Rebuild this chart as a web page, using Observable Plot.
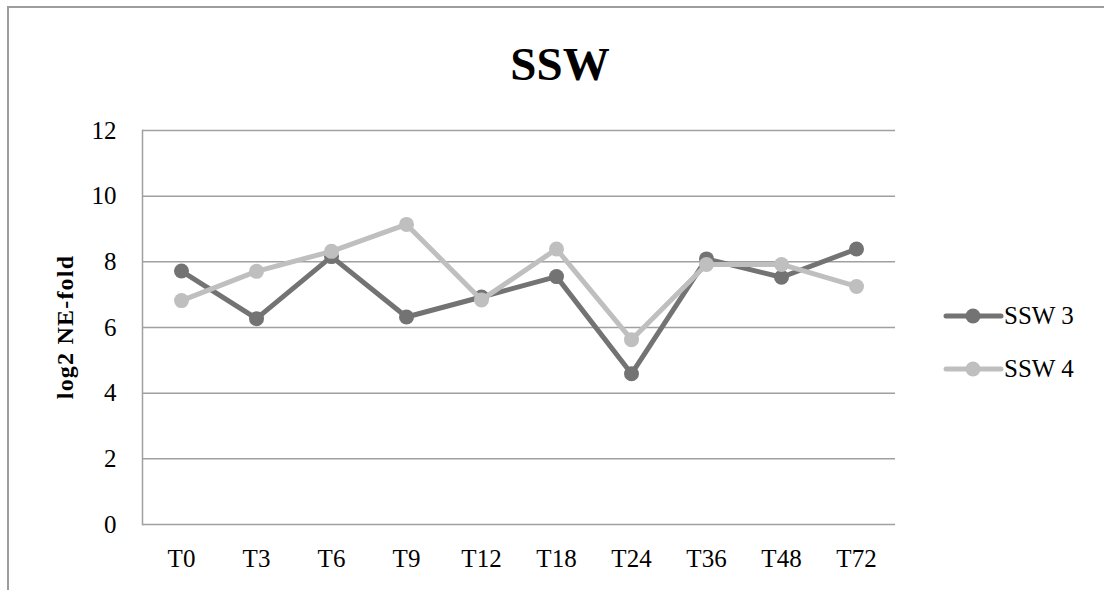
<!DOCTYPE html>
<html>
<head>
<meta charset="utf-8">
<script src="https://cdn.jsdelivr.net/npm/d3@7"></script>
<script src="https://cdn.jsdelivr.net/npm/@observablehq/plot@0.6"></script>
<style>
  html, body { margin: 0; padding: 0; background: #fff; overflow: hidden; }
  #wrap { position: relative; width: 1104px; height: 590px; overflow: hidden; font-family: "Liberation Serif", serif; }
  #border { position: absolute; left: 7px; top: 6px; width: 1300px; height: 800px; border-left: 2px solid #9c9c9c; border-top: 2px solid #9c9c9c; }
  #chart { position: absolute; left: 0; top: 0; }
  #title { position: absolute; left: 460px; width: 200px; top: 41px; text-align: center; font-size: 47px; line-height: 46px; font-weight: bold; color: #000; }
  #ylabel { position: absolute; left: 65px; top: 327px; transform: translate(-50%, -50%) rotate(-90deg); font-size: 24px; font-weight: bold; white-space: nowrap; letter-spacing: 1.2px; color: #000; }
  #legend { position: absolute; left: 0; top: 0; }
</style>
</head>
<body>
<div id="wrap">
  <div id="border"></div>
  <div id="chart"></div>
  <div id="title">SSW</div>
  <div id="ylabel">log2 NE-fold</div>
  <svg id="legend" width="1104" height="590"></svg>
</div>
<script>
const categories = ["T0", "T3", "T6", "T9", "T12", "T18", "T24", "T36", "T48", "T72"];
const ssw3 = [7.72, 6.27, 8.16, 6.32, 6.93, 7.55, 4.59, 8.09, 7.53, 8.39];
const ssw4 = [6.82, 7.71, 8.32, 9.14, 6.84, 8.39, 5.63, 7.92, 7.92, 7.25];
const yTicks = [0, 2, 4, 6, 8, 10, 12];
const seriesNames = ["SSW 3", "SSW 4"];
const seriesColors = ["#737373", "#bfbfbf"];

const rows3 = categories.map((c, i) => ({cat: c, v: ssw3[i]}));
const rows4 = categories.map((c, i) => ({cat: c, v: ssw4[i]}));

const grid = "#a0a0a0";

const chart = Plot.plot({
  width: 1104,
  height: 590,
  marginLeft: 142,
  marginRight: 209,
  marginTop: 130,
  marginBottom: 66,
  style: {fontFamily: "'Liberation Serif', serif", fontSize: "25px", color: "#000", background: "transparent"},
  x: {type: "point", domain: categories, padding: 0.5, label: null},
  y: {domain: [0, 12], ticks: yTicks, label: null},
  marks: [
    Plot.gridY(yTicks.filter(t => t > 0), {stroke: grid, strokeOpacity: 1, strokeWidth: 1.5}),
    Plot.ruleY([0], {stroke: grid, strokeWidth: 1.5}),
    Plot.frame({anchor: "left", stroke: grid, strokeWidth: 1.5}),
    Plot.axisX({tickSize: 0, tickPadding: 25, fontSize: 25, label: null}),
    Plot.axisY({ticks: yTicks, tickSize: 0, tickPadding: 26, fontSize: 25, label: null}),
    Plot.lineY(rows3, {x: "cat", y: "v", stroke: seriesColors[0], strokeWidth: 5, strokeLinejoin: "round", strokeLinecap: "round"}),
    Plot.dot(rows3, {x: "cat", y: "v", r: 7.5, fill: seriesColors[0], stroke: "none"}),
    Plot.lineY(rows4, {x: "cat", y: "v", stroke: seriesColors[1], strokeWidth: 5, strokeLinejoin: "round", strokeLinecap: "round"}),
    Plot.dot(rows4, {x: "cat", y: "v", r: 7.5, fill: seriesColors[1], stroke: "none"})
  ]
});
document.getElementById("chart").appendChild(chart);

// Legend
const lg = d3.select("#legend");
const legendY = [316, 369];
seriesNames.forEach((name, i) => {
  const g = lg.append("g").attr("transform", `translate(0,${legendY[i]})`);
  g.append("line").attr("x1", 946).attr("x2", 1001).attr("y1", 0).attr("y2", 0)
    .attr("stroke", seriesColors[i]).attr("stroke-width", 5).attr("stroke-linecap", "round");
  g.append("circle").attr("cx", 973).attr("cy", 0).attr("r", 7.5).attr("fill", seriesColors[i]);
  g.append("text").attr("x", 1004).attr("y", 0).attr("dy", "0.33em")
    .attr("font-family", "'Liberation Serif', serif").attr("font-size", 25).attr("fill", "#000").text(name);
});
</script>
</body>
</html>
